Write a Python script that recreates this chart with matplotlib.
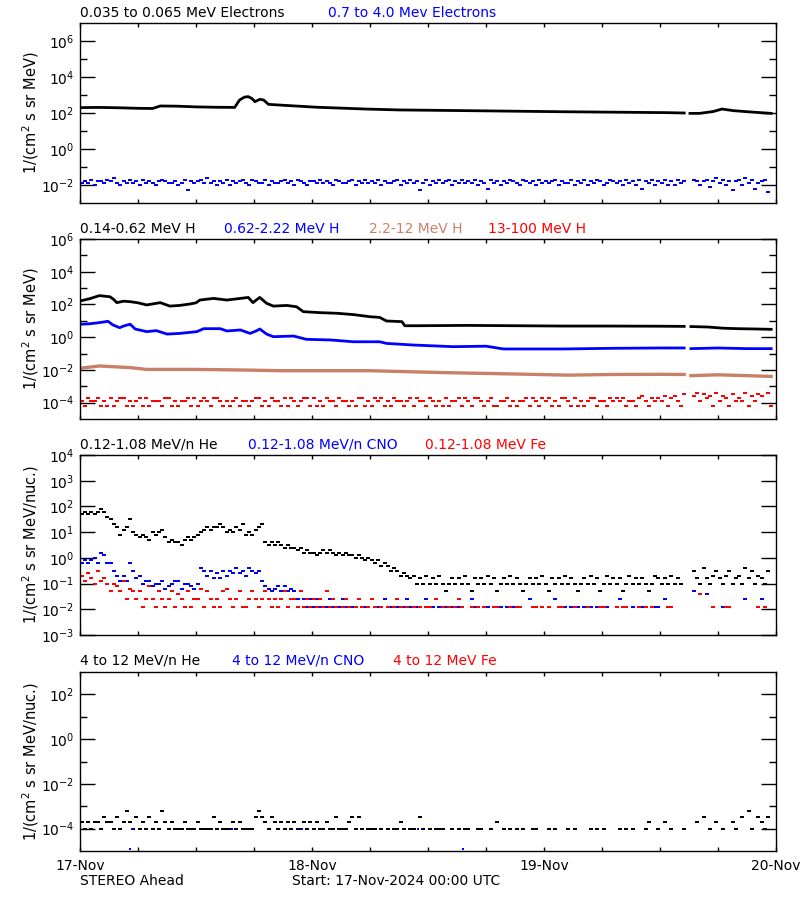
import numpy as np
import matplotlib
matplotlib.use("Agg")
import matplotlib.pyplot as plt
from matplotlib.ticker import (FixedLocator, FuncFormatter, LogFormatterMathtext,
                               NullFormatter, NullLocator)

plt.rcParams["font.family"] = "DejaVu Sans"
plt.rcParams["font.size"] = 10
plt.rcParams["mathtext.default"] = "regular"

BLUE = "#0000ff"
RED = "#ff0000"
TAN = "#c98068"
nan = np.nan

# hours since 17-Nov-2024 00:00 UTC
day_labels = ["17-Nov", "18-Nov", "19-Nov", "20-Nov"]

# ---- smooth channels: (hour, log10 flux) ----
e_lo_t = [0, 2, 4, 6, 7.5, 8.3, 10, 12, 14, 16, 16.5, 17, 17.4, 17.8, 18.1, 18.6, 19.0,
          19.5, 21, 24.5, 29.6, 33, 40, 50, 60.7, 62.5, 62.8, 63.1, 64.1, 65.5, 66.4,
          67.6, 69.3, 71.5]
e_lo_v = [2.30, 2.31, 2.29, 2.26, 2.25, 2.39, 2.38, 2.34, 2.32, 2.31, 2.72, 2.88, 2.91,
          2.80, 2.63, 2.76, 2.72, 2.48, 2.43, 2.32, 2.22, 2.17, 2.13, 2.07, 2.02, 2.00,
          nan, 1.98, 1.98, 2.08, 2.22, 2.13, 2.06, 1.98]

p_lo_t = [0, 1, 2, 3.1, 3.5, 3.8, 4.5, 5.2, 6, 6.9, 8.3, 9.3, 10.3, 11.4, 12, 12.4, 13.8,
          15.2, 16.6, 17.4, 17.9, 18.3, 18.6, 19.3, 20, 21.4, 22.4, 23.1, 24.8, 26.6,
          28.3, 30, 31, 31.7, 33.3, 33.6, 35, 40, 45, 50, 55, 60, 62.5, 62.8, 63.2, 65,
          66.5, 68, 70, 71.5]
p_lo_v = [2.21, 2.35, 2.54, 2.47, 2.30, 2.11, 2.20, 2.17, 2.10, 1.97, 2.11, 1.90, 1.94,
          2.03, 2.10, 2.27, 2.37, 2.27, 2.37, 2.43, 2.11, 2.30, 2.43, 2.07, 1.90, 1.94,
          1.86, 1.56, 1.50, 1.46, 1.38, 1.25, 1.21, 0.99, 0.95, 0.70, 0.70, 0.72, 0.70,
          0.68, 0.68, 0.67, 0.66, nan, 0.65, 0.62, 0.55, 0.52, 0.50, 0.48]

p_mid_t = [0, 1, 2, 2.9, 3.4, 4.1, 4.6, 5.2, 5.7, 6.9, 7.9, 9, 10.3, 12.1, 12.8, 14.5,
           15.2, 16.6, 17.6, 18.3, 18.6, 19.3, 20, 22.1, 23.4, 25.9, 28.3, 31, 31.7,
           34.5, 38.6, 42, 43.8, 50, 55, 60, 62.5, 62.8, 63.2, 66, 69, 71.5]
p_mid_v = [0.79, 0.82, 0.89, 0.97, 0.75, 0.58, 0.70, 0.79, 0.50, 0.34, 0.40, 0.19, 0.23,
           0.34, 0.52, 0.52, 0.38, 0.44, 0.23, 0.40, 0.50, 0.19, 0.03, 0.07, -0.13,
           -0.17, -0.28, -0.28, -0.38, -0.48, -0.58, -0.55, -0.72, -0.72, -0.68, -0.66,
           -0.66, nan, -0.70, -0.66, -0.70, -0.70]

p_hi_t = [0, 2, 5.2, 6.9, 12, 17.2, 21, 30, 38, 45, 50.5, 55, 60, 62.5, 62.8, 63.2, 66,
          69, 71.5]
p_hi_v = [-1.90, -1.76, -1.86, -1.97, -1.97, -2.01, -2.05, -2.05, -2.17, -2.25, -2.32,
          -2.28, -2.27, -2.28, nan, -2.35, -2.30, -2.35, -2.40]

# ---- noisy / count-limited channels: one string per day, 20-min samples.
# each char is a level index (0-9, A-Z), "." = no point, spaces are ignored
CODES = "0123456789ABCDEFGHIJKLMNOPQRSTUVWXYZ"

# 0.7-4.0 MeV electrons, log10 = -2.5 + 0.1*idx
e_hi_days = [
    "676857768796 576867586765 787667568276 786967576857 678658766857 667867587657",
    "768676587667 857686768576 678576867268 576867857686 768576386757 687658767586",
    "767857668576 857687568767 586758376857 68575867..87 578479685727 8596836781..",
]
# 13-100 MeV H, counts of 6.5e-5
p_vhi_days = [
    "213223121312 331212313122 213312122313 123213321212 312212331213 221313212331",
    "312132213221 213312132312 132212313221 321213122313 213321231122 312122313213",
    "231213321312 123312213232 312213421323 24134215..46 253416243152 32614254.61.",
]
# 0.12-1.08 MeV/n He, log10 = -1.4 + 0.1*idx
he_lo_days = [
    "VWV WVW XWU TRQ NPQ TON MNM LON OPM KLK KJL MLM NOP QPQ QRQ OPO QPR NON PQR KJK JKJ IJI IHI GHG",
    "GFG HGH GFG FGF FEF EDE DCD BCB 9A9 787 674 647 464 741 464 647 416 464 746 146 474 641 464 647",
    "416 464 746 414 647 461 474 646 147 464 641 476 464 746 4.. .96 4A6 479 647 946 74A 694 764 9..",
]
# 0.12-1.08 MeV/n CNO, log10 = -2.0 + 0.1*idx
cno_lo_days = [
    "IJI JKI MLI IFD BDB IFC DAB B9A AB8 9AB B8A A98 AGF DFC ECF DFE GEF DGF EFB 987 897 978 747 414",
    "141 .14 1.1 41. 114 .11 4.1 14. 1.1 .14 1.1 1.4 .1. 1.1 .11 1.. .41 1.1 1.. .1. 1.1 11. .41 1.1",
    ".1. 4.1 1.1 .1. 1.1 .1. 11. ..4 .1. 1.1 1.. .11 .4. 1.. ... .7. ..6 ... .1. ... ..4 ... .41 ...",
]
# 0.12-1.08 MeV Fe, log10 = -2.0 + 0.1*idx
fe_lo_days = [
    "DBE CAF BCA 7A9 7B4 874 714 941 741 471 641 714 481 741 417 841 471 147 414 741 414 714 417 141",
    "414 171 41. 141 .14 1.1 41. 1.1 .14 1.1 .1. 1.1 1.4 .1. 1.1 41. .1. 1.1 ..1 1.. .1. 11. ..1 1.1",
    ".1. .11 ... 1.. .1. ..1 1.. .1. 11. ..1 .1. 1.. ..1 1.. ... ... 6.. .1. ..1 1.. ... ... 1.1 ...",
]
# 4-12 MeV/n He, log10 = -4.1 + 0.1*idx
he_hi_days = [
    "414 144 164 416 149 416 141 614 194 141 114 111 411 116 141 114 141 111 696 416 414 141 411 414",
    "141 141 161 114 616 1.1 11. 1.1 .11 41. 11. 61. 1.1 11. .1. 1.1 1.. 11. .1. 4.1 .1. 1.1 ..1 1..",
    ".1. 1.. .1. 1.. ..1 .1. 1.. ..1 .1. 1.. .14 ..1 .4. 1.. .1. ..4 .6. 1.4 .1. .41 .6. 91. 641 6..",
]
# 4-12 MeV/n CNO and Fe: only a few isolated points
cno_hi_t = [5.2, 5.4, 15.7, 23.0, 35.0, 39.6]
cno_hi_v = [-4.9, -4.0, -4.0, -4.0, -4.0, -4.9]
fe_hi_t = []
fe_hi_v = []


def decode(days, base=None, step=0.1, unit=None):
    t, v = [], []
    for d, s in enumerate(days):
        s = s.replace(" ", "")
        for i, c in enumerate(s):
            if c == ".":
                continue
            k = CODES.index(c)
            t.append(d * 24 + (i + 0.5) / 3)
            v.append(unit * k if unit else 10 ** (base + step * k))
    return np.array(t), np.array(v)


def pw(v):
    return 10 ** np.array(v, dtype=float)


# a short flat dash, a bit wider than one 20-min sample
DASH = [(-2.2, -1.0), (2.2, -1.0), (2.2, 1.0), (-2.2, 1.0), (-2.2, -1.0)]

fig = plt.figure(figsize=(8, 9), dpi=100)
W, H = 800, 900


def add_panel(top, bottom, ylo, yhi, major, minor, ylabel):
    ax = fig.add_axes([80 / W, 1 - bottom / H, 696 / W, (bottom - top) / H])
    ax.set_yscale("log")
    ax.set_ylim(10.0 ** ylo, 10.0 ** yhi)
    ax.set_xlim(0, 72)
    ax.yaxis.set_major_locator(FixedLocator([10.0 ** e for e in major]))
    ax.yaxis.set_minor_locator(FixedLocator([10.0 ** e for e in minor]))
    ax.yaxis.set_major_formatter(LogFormatterMathtext())
    ax.yaxis.set_minor_formatter(NullFormatter())
    ax.xaxis.set_major_locator(FixedLocator(range(0, 73, 6)))
    ax.xaxis.set_minor_locator(NullLocator())
    ax.tick_params(axis="y", which="major", direction="in", length=11, width=1,
                   left=True, right=True, pad=4, labelsize=10)
    ax.tick_params(axis="y", which="minor", direction="in", length=5, width=1,
                   left=True, right=True)
    ax.tick_params(axis="x", which="major", direction="in", length=3, width=1,
                   top=True, bottom=True, labelbottom=False)
    for s in ax.spines.values():
        s.set_linewidth(1)
    ax.set_ylabel(ylabel, fontsize=10.5)
    ax.yaxis.set_label_coords(-0.056, 0.5)
    return ax


def dots(ax, t, v, color, ms=3.2, marker=DASH):
    ax.plot(t, v, ls="none", marker=marker, ms=ms, mew=0, color=color)


def titles(ypix, items):
    for text, color, xpix in items:
        fig.text(xpix / W, 1 - ypix / H, text, color=color, fontsize=10,
                 ha="left", va="center")


lab1 = "1/(cm$^2$ s sr MeV)"
lab2 = "1/(cm$^2$ s sr MeV/nuc.)"

# panel 1: electrons
ax1 = add_panel(23, 203, -3, 7, [-2, 0, 2, 4, 6], [-1, 1, 3, 5], lab1)
ax1.plot(e_lo_t, pw(e_lo_v), color="black", lw=2.0)
t, v = decode(e_hi_days, base=-2.5)
dots(ax1, t, v, BLUE)
titles(13, [("0.035 to 0.065 MeV Electrons", "black", 80),
            ("0.7 to 4.0 Mev Electrons", BLUE, 328)])

# panel 2: protons
ax2 = add_panel(239, 419, -5, 6, [-4, -2, 0, 2, 4, 6], [-3, -1, 1, 3, 5], lab1)
ax2.plot(p_lo_t, pw(p_lo_v), color="black", lw=2.0)
ax2.plot(p_mid_t, pw(p_mid_v), color=BLUE, lw=2.0)
ax2.plot(p_hi_t, pw(p_hi_v), color=TAN, lw=2.4)
t, v = decode(p_vhi_days, unit=6.5e-5)
dots(ax2, t, v, RED)
titles(229, [("0.14-0.62 MeV H", "black", 80), ("0.62-2.22 MeV H", BLUE, 224),
             ("2.2-12 MeV H", TAN, 369), ("13-100 MeV H", RED, 488)])

# panel 3: low-energy heavy ions
ax3 = add_panel(455, 635, -3, 4, [-3, -2, -1, 0, 1, 2, 3, 4], [], lab2)
t, v = decode(he_lo_days, base=-1.4)
dots(ax3, t, v, "black")
t, v = decode(cno_lo_days, base=-2.0)
dots(ax3, t, v, BLUE)
t, v = decode(fe_lo_days, base=-2.0)
dots(ax3, t, v, RED)
titles(445, [("0.12-1.08 MeV/n He", "black", 80), ("0.12-1.08 MeV/n CNO", BLUE, 248),
             ("0.12-1.08 MeV Fe", RED, 425)])

# panel 4: high-energy heavy ions
ax4 = add_panel(672, 851, -5, 3, [-4, -2, 0, 2], [-3, -1, 1], lab2)
t, v = decode(he_hi_days, base=-4.1)
dots(ax4, t, v, "black", ms=2.6)
dots(ax4, cno_hi_t, pw(cno_hi_v), BLUE, ms=1.6, marker="s")
dots(ax4, fe_hi_t, pw(fe_hi_v), RED, ms=1.6, marker="s")
titles(661, [("4 to 12 MeV/n He", "black", 80), ("4 to 12 MeV/n CNO", BLUE, 232),
             ("4 to 12 MeV Fe", RED, 393)])

ax4.tick_params(axis="x", labelbottom=True, pad=6, labelsize=10)
ax4.xaxis.set_major_formatter(FuncFormatter(
    lambda h, pos: day_labels[int(round(h)) // 24] if round(h) % 24 == 0 else ""))

fig.text(80 / W, 1 - 881 / H, "STEREO Ahead", fontsize=10, ha="left", va="center")
fig.text(292 / W, 1 - 881 / H, "Start: 17-Nov-2024 00:00 UTC", fontsize=10,
         ha="left", va="center")

fig.savefig("out.png", dpi=100, facecolor="white")
